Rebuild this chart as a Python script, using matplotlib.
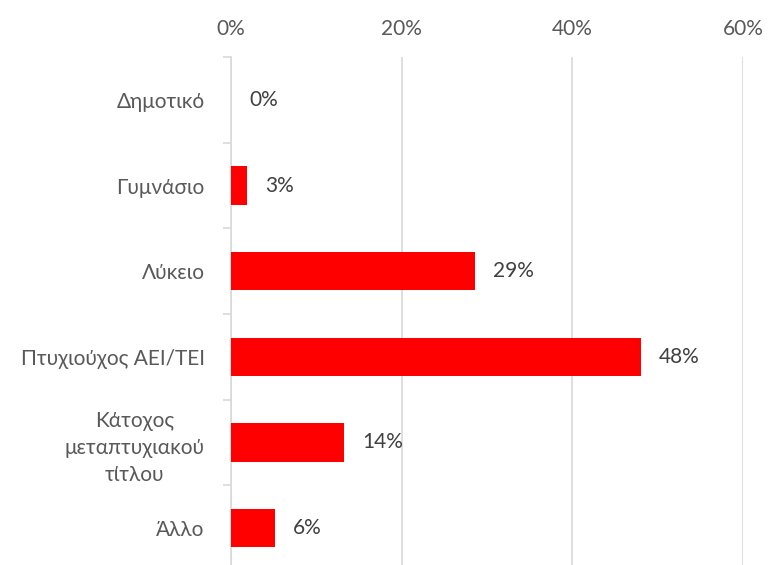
import numpy as np
import matplotlib
matplotlib.use("Agg")
import matplotlib.pyplot as plt

plt.rcParams['font.family'] = ['Lato', 'Open Sans', 'DejaVu Sans']

# κατηγορίες εκπαίδευσης (από πάνω προς τα κάτω)
categories = ["Δημοτικό", "Γυμνάσιο", "Λύκειο", "Πτυχιούχος ΑΕΙ/ΤΕΙ",
              "Κάτοχος\nμεταπτυχιακού\nτίτλου", "Άλλο"]
# μήκη ράβδων όπως φαίνονται στο γράφημα (%)
values = [0.0, 1.9, 28.6, 48.0, 13.3, 5.1]
# ετικέτες τιμών όπως γράφονται στο γράφημα
value_labels = ["0%", "3%", "29%", "48%", "14%", "6%"]
xticks = [0, 20, 40, 60]

fig = plt.figure(figsize=(7.73, 5.65), dpi=100)
ax = fig.add_axes([231 / 773, -6 / 565, 512 / 773, 514 / 565])

y = np.arange(len(categories))
ax.barh(y, values, height=0.45, color="#ff0000", zorder=3)

for yi, v, lab in zip(y, values, value_labels):
    ax.annotate(lab, (v, yi), xytext=(13, 0), textcoords="offset points",
                va="center", ha="left", fontsize=15, color="#404040")

ax.set_xlim(0, 60)
ax.set_ylim(len(categories) - 0.5, -0.5)

ax.xaxis.tick_top()
ax.set_xticks(xticks)
ax.set_xticklabels([f"{t}%" for t in xticks])
ax.tick_params(axis="x", length=0, pad=13, labelsize=15, labelcolor="#595959")
ax.grid(axis="x", color="#d9d9d9", linewidth=1.2, zorder=0)

ax.set_yticks(y)
ax.set_yticklabels(categories, multialignment="center", linespacing=1.45)
ax.set_yticks(np.arange(-0.5, len(categories), 1.0), minor=True)
ax.tick_params(axis="y", which="major", length=0, pad=19, labelsize=15,
               labelcolor="#595959")
ax.tick_params(axis="y", which="minor", length=6, width=1.2, color="#d9d9d9")

for s in ["top", "right", "bottom"]:
    ax.spines[s].set_visible(False)
ax.spines["left"].set_color("#d9d9d9")
ax.spines["left"].set_linewidth(1.2)

fig.savefig("out.png", dpi=100)
